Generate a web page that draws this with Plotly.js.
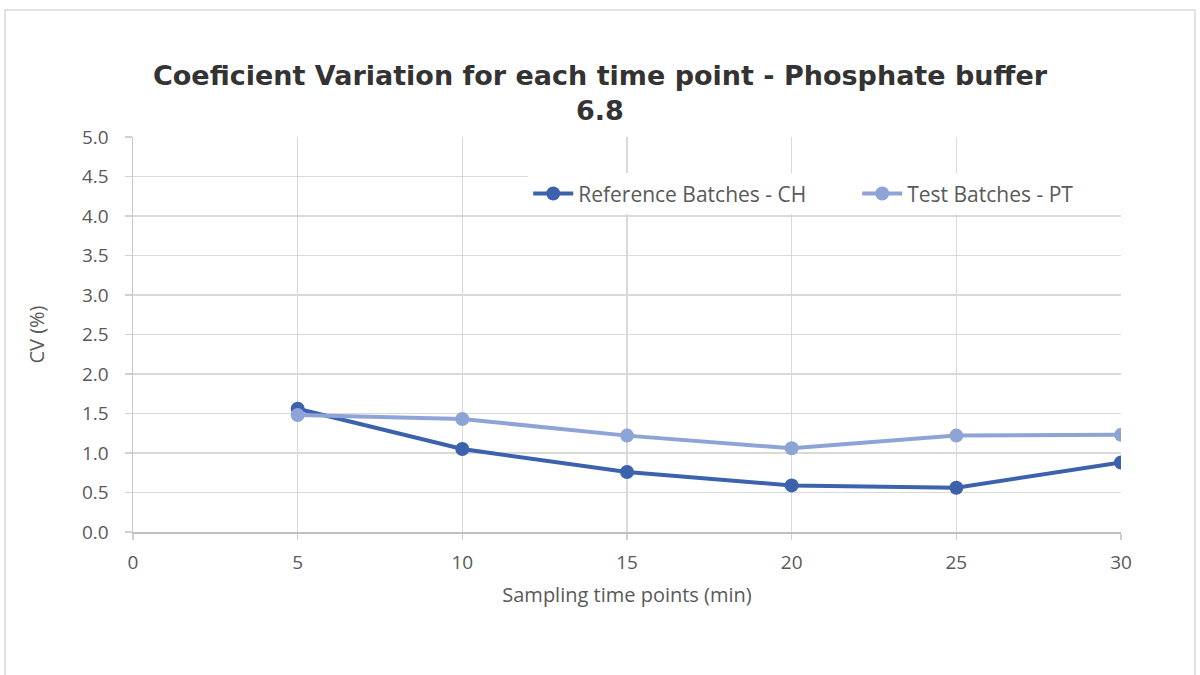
<!DOCTYPE html>
<html>
<head>
<meta charset="utf-8">
<script src="https://cdn.plot.ly/plotly-3.0.1.min.js"></script>
<style>
html,body{margin:0;padding:0;background:#fff;}
#chart{width:1200px;height:675px;}
</style>
</head>
<body>
<div id="chart"></div>
<script>
const timePoints = [5, 10, 15, 20, 25, 30];
const referenceCV = [1.56, 1.05, 0.76, 0.59, 0.56, 0.88];
const testCV = [1.48, 1.43, 1.22, 1.06, 1.22, 1.23];
const seriesNames = ["Reference Batches - CH", "Test Batches - PT"];
const xTicks = [0, 5, 10, 15, 20, 25, 30];
const yTicks = [0, 0.5, 1, 1.5, 2, 2.5, 3, 3.5, 4, 4.5, 5];

const textFamily = "Open Sans, Liberation Sans, sans-serif";
const tickFont = {family: textFamily, size: 19, color: "#595959"};

const traces = [
  {
    x: timePoints, y: referenceCV, name: seriesNames[0],
    type: "scatter", mode: "lines+markers",
    line: {color: "#3D62AD", width: 4},
    marker: {color: "#3D62AD", size: 14}
  },
  {
    x: timePoints, y: testCV, name: seriesNames[1],
    type: "scatter", mode: "lines+markers",
    line: {color: "#8FA4D6", width: 4},
    marker: {color: "#8FA4D6", size: 14}
  }
];

const layout = {
  width: 1200, height: 675,
  paper_bgcolor: "#ffffff", plot_bgcolor: "#ffffff",
  margin: {l: 133, r: 79, t: 137, b: 143},
  title: {
    text: "Coeficient Variation for each time point - Phosphate buffer<br>6.8",
    font: {family: "DejaVu Sans, Liberation Sans, sans-serif", size: 27, color: "#333333", weight: "bold"},
    x: 0.5, xanchor: "center", y: 0.874, yanchor: "middle"
  },
  showlegend: true,
  legend: {
    orientation: "h", x: 0.40, xanchor: "left", y: 0.856, yanchor: "middle",
    font: {family: textFamily, size: 21, color: "#595959"},
    bgcolor: "rgba(255,255,255,1)", itemwidth: 40,
    entrywidth: 274, entrywidthmode: "pixels"
  },
  xaxis: {
    range: [0, 30], tickvals: xTicks, ticktext: xTicks.map(String),
    showgrid: true, gridcolor: "#d9d9d9", gridwidth: 1.3,
    zeroline: false, showline: true, linecolor: "#bfbfbf", linewidth: 2,
    ticks: "outside", ticklen: 6, tickcolor: "#d0d0d0", tickwidth: 1.5,
    ticklabelstandoff: 6,
    tickfont: tickFont,
    title: {text: "Sampling time points (min)", font: {family: textFamily, size: 20, color: "#595959"}, standoff: 14}
  },
  yaxis: {
    range: [0, 5], tickvals: yTicks, ticktext: yTicks.map(v => v.toFixed(1)),
    showgrid: true, gridcolor: "#d9d9d9", gridwidth: 1.3,
    zeroline: false, showline: true, linecolor: "#c8c8c8", linewidth: 1.5,
    ticks: "outside", ticklen: 7, tickcolor: "#d0d0d0", tickwidth: 1.5,
    ticklabelstandoff: 12,
    tickfont: tickFont,
    title: {text: "CV (%)", font: {family: textFamily, size: 20, color: "#595959"}, standoff: 32}
  },
  shapes: [
    {type: "rect", xref: "paper", yref: "paper",
     x0: (5 - 133) / 988, x1: (1195 - 133) / 988,
     y0: (532 - 700) / 395, y1: (532 - 10) / 395,
     line: {color: "#d9d9d9", width: 1.5}, fillcolor: "rgba(0,0,0,0)", layer: "below"}
  ]
};

Plotly.newPlot("chart", traces, layout, {displayModeBar: false, staticPlot: true});
</script>
</body>
</html>
